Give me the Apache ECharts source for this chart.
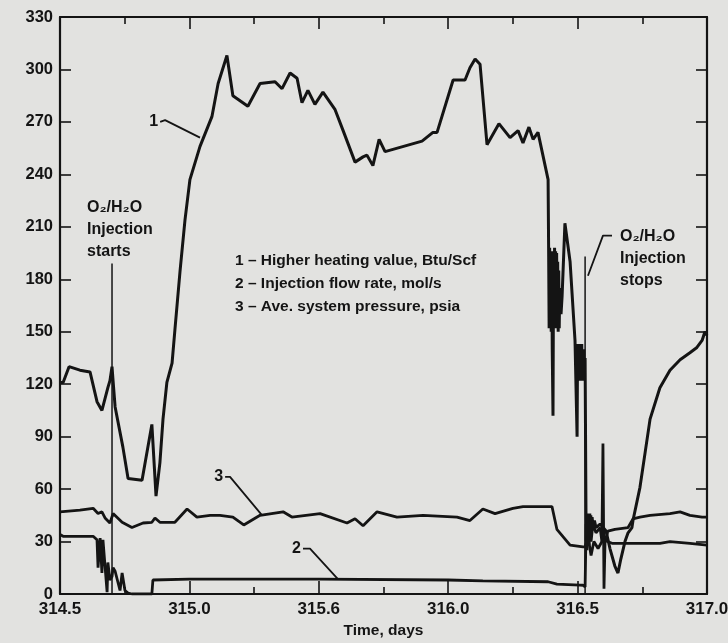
<!DOCTYPE html>
<html>
<head>
<meta charset="utf-8">
<script src="https://cdn.jsdelivr.net/npm/echarts@6/dist/echarts.min.js"></script>
<style>
html,body{margin:0;padding:0;background:#e2e2e0;}
#c{width:728px;height:643px;}
</style>
</head>
<body>
<div id="c"></div>
<script>
// ---- data (time in days, values) ----
const xTickLabels = ['314.5','315.0','315.6','316.0','316.5','317.0'];
const yTickLabels = ['0','30','60','90','120','150','180','210','240','270','300','330'];

const heatingValue = [ // 1 - Higher heating value, Btu/Scf
[314.500,121],[314.512,121],[314.535,130],[314.577,128],[314.616,127],[314.643,110],[314.662,105],
[314.685,118],[314.693,122],[314.701,130],[314.705,122],[314.713,107],[314.743,84],[314.763,66],
[314.817,65],[314.855,97],[314.871,56],[314.886,75],[314.898,100],[314.913,121],[314.933,132],
[314.944,151],[314.964,185],[314.983,214],[315.002,237],[315.041,256],[315.087,273],[315.111,292],
[315.145,308],[315.168,285],[315.226,279],[315.273,292],[315.331,293],[315.358,289],[315.389,298],
[315.416,295],[315.435,281],[315.458,288],[315.485,280],[315.516,287],[315.563,277],[315.594,265],
[315.640,247],[315.671,250],[315.686,251],[315.709,245],[315.733,260],[315.756,253],[315.899,259],
[315.941,264],[315.957,264],[316.019,294],[316.065,294],[316.084,301],[316.104,306],[316.123,303],
[316.150,257],[316.196,269],[316.239,261],[316.270,265],[316.289,258],[316.312,267],[316.328,260],
[316.347,264],[316.386,237],
[316.388,198],[316.390,152],[316.392,198],[316.394,152],[316.396,196],[316.398,150],[316.400,196],
[316.402,140],[316.405,102],[316.407,190],[316.409,152],[316.411,198],[316.413,152],[316.415,196],
[316.417,155],[316.419,195],[316.421,152],[316.423,190],[316.425,150],[316.427,185],[316.429,152],
[316.431,175],[316.436,160],[316.440,170],[316.451,212],[316.471,190],[316.490,145],[316.498,90],
[316.500,143],[316.502,122],[316.504,143],[316.506,122],[316.508,143],[316.510,122],[316.512,143],
[316.514,122],[316.516,143],[316.518,122],[316.520,140],[316.522,125],[316.524,140],[316.526,125],
[316.529,135],[316.533,30],[316.535,45],[316.537,35],[316.539,46],[316.541,35],[316.543,46],
[316.545,35],[316.547,46],[316.549,35],[316.551,45],[316.553,36],[316.556,44],[316.560,38],
[316.565,42],[316.571,38],[316.587,40],[316.610,36],[316.625,26],[316.644,16],[316.656,12],
[316.667,20],[316.683,30],[316.695,35],[316.710,38],[316.714,42],[316.741,61],[316.761,81],
[316.780,100],[316.818,118],[316.857,128],[316.896,134],[316.934,138],[316.961,141],[316.981,145],
[316.992,150],[317.000,148]
];

const flowRate = [ // 2 - Injection flow rate, mol/s
[314.500,34],[314.512,33],[314.628,33],[314.643,31],[314.647,15],[314.655,32],[314.662,12],
[314.666,31],[314.674,16],[314.682,1],[314.685,18],[314.693,8],[314.701,10],[314.705,15],
[314.713,13],[314.720,14],[314.732,2],[314.740,12],[314.751,2],[314.763,0.5],[314.778,0],
[314.855,0],[314.859,8],[315.000,8.5],[315.500,8.5],[316.000,8],[316.134,7.5],[316.386,7],
[316.420,5.7],[316.509,5.1],[316.521,5],[316.529,4],[316.533,40],[316.536,25],[316.540,45],
[316.544,28],[316.548,42],[316.552,30],[316.559,40],[316.571,35],[316.587,38],[316.594,30],
[316.598,86],[316.602,3],[316.606,30],[316.617,36],[316.644,37],[316.695,38],[316.714,43],
[316.741,44],[316.780,45],[316.857,46],[316.896,47],[316.934,45],[316.981,44],[317.000,44]
];

const pressure = [ // 3 - Ave. system pressure, psia
[314.500,47],[314.577,48],[314.628,49],[314.647,46],[314.662,47],[314.674,43.5],[314.693,40.6],
[314.705,46],[314.740,41],[314.778,38],[314.821,40.6],[314.855,41],[314.867,43.5],[314.886,41],
[314.944,41],[314.991,48.6],[315.029,44],[315.080,45],[315.118,45],[315.168,44],[315.210,39.5],
[315.273,45],[315.362,47],[315.396,44],[315.505,46],[315.609,40.6],[315.640,43],[315.671,39],
[315.725,47],[315.802,44],[315.903,45],[316.034,44],[316.084,42],[316.134,48.6],[316.181,46],
[316.250,49],[316.289,50],[316.401,50],[316.420,37],[316.471,28],[316.521,27],[316.529,27],
[316.540,33],[316.552,22],[316.563,30],[316.579,26],[316.598,31],[316.633,29],[316.691,29],
[316.818,29],[316.857,30],[316.934,29],[317.000,28]
];

const startMarker = [[314.701,0],[314.701,189]];
const stopMarker = [[316.529,0],[316.529,193]];

const legendLines = ['1 \u2013 Higher heating value, Btu/Scf','2 \u2013 Injection flow rate, mol/s','3 \u2013 Ave. system pressure, psia'];
const startText = ['O\u2082/H\u2082O','Injection','starts'];
const stopText = ['O\u2082/H\u2082O','Injection','stops'];

// leader lines for annotations (data coordinates)
const leader1 = [[314.887,270],[314.906,271],[315.041,261]];
const leader3 = [[315.138,67],[315.157,67],[315.281,45]];
const leader2 = [[315.439,26],[315.466,26],[315.574,8.5]];
const leaderStop = [[316.540,182],[316.598,205],[316.633,205]];

// ---- chart ----
const FONT = '"Liberation Sans", Arial, sans-serif';
const INK = '#141414';
const chart = echarts.init(document.getElementById('c'));

function lineSeries(data, w) {
  return {type:'line', data:data, showSymbol:false, symbol:'none', animation:false,
    lineStyle:{color:INK, width:w}, xAxisIndex:0, yAxisIndex:0, z:3};
}

chart.setOption({
  backgroundColor:'#e2e2e0',
  animation:false,
  grid:{left:60, right:21, top:17, bottom:49, containLabel:false, outerBoundsMode:'none'},
  xAxis:[
    {type:'value', position:'bottom', min:314.5, max:317.0, interval:0.5,
     axisLine:{show:true, onZero:false, lineStyle:{color:INK, width:2.2}},
     axisTick:{show:true, inside:true, length:13, lineStyle:{color:INK, width:1.6}},
     minorTick:{show:true, splitNumber:2, length:7, lineStyle:{color:INK, width:1.6}},
     splitLine:{show:false},
     axisLabel:{margin:7, fontSize:17, fontWeight:'bold', color:INK, fontFamily:FONT,
       formatter:function(v){ return xTickLabels[Math.round((v-314.5)/0.5)]; }},
     name:'Time, days', nameLocation:'middle', nameGap:28,
     nameTextStyle:{fontSize:15.5, fontWeight:'bold', color:INK, fontFamily:FONT}},
    {type:'value', position:'top', min:314.5, max:317.0, interval:0.5,
     axisLine:{show:true, onZero:false, lineStyle:{color:INK, width:2.2}},
     axisTick:{show:true, inside:true, length:12, lineStyle:{color:INK, width:1.6}},
     minorTick:{show:true, splitNumber:2, length:7, lineStyle:{color:INK, width:1.6}},
     splitLine:{show:false}, axisLabel:{show:false}}
  ],
  yAxis:[
    {type:'value', position:'left', min:0, max:330, interval:30,
     axisLine:{show:true, onZero:false, lineStyle:{color:INK, width:2.2}},
     axisTick:{show:true, inside:true, length:11, lineStyle:{color:INK, width:1.6}},
     splitLine:{show:false},
     axisLabel:{margin:7, fontSize:16.5, fontWeight:'bold', color:INK, fontFamily:FONT,
       formatter:function(v){ return yTickLabels[Math.round(v/30)]; }}},
    {type:'value', position:'right', min:0, max:330, interval:30,
     axisLine:{show:true, onZero:false, lineStyle:{color:INK, width:2.2}},
     axisTick:{show:true, inside:true, length:11, lineStyle:{color:INK, width:1.6}},
     splitLine:{show:false}, axisLabel:{show:false}}
  ],
  series:[
    lineSeries(heatingValue, 3),
    lineSeries(flowRate, 2.8),
    lineSeries(pressure, 2.8),
    lineSeries(startMarker, 1.5),
    lineSeries(stopMarker, 1.5),
    lineSeries(leader1, 1.8),
    lineSeries(leader3, 1.8),
    lineSeries(leader2, 1.8),
    lineSeries(leaderStop, 1.8)
  ]
});

function px(p){ return chart.convertToPixel({xAxisIndex:0, yAxisIndex:0}, p); }
const txt = (x, y, s, size, align) => ({type:'text', x:x, y:y, z:10,
  style:{text:s, fill:INK, font:'bold '+size+'px '+FONT, textAlign:align||'left', textVerticalAlign:'middle'}});

const g = [];
legendLines.forEach((s,i)=>g.push(txt(235, 261 + i*23, s, 15.5)));
startText.forEach((s,i)=>g.push(txt(87, 208 + i*22, s, 16)));
stopText.forEach((s,i)=>g.push(txt(620, 237 + i*22, s, 16)));
const p1 = px(leader1[0]); g.push(txt(p1[0]-2, p1[1], '1', 16, 'right'));
const p3 = px(leader3[0]); g.push(txt(p3[0]-2, p3[1], '3', 16, 'right'));
const p2 = px(leader2[0]); g.push(txt(p2[0]-2, p2[1], '2', 16, 'right'));
chart.setOption({graphic:g});
</script>
</body>
</html>
